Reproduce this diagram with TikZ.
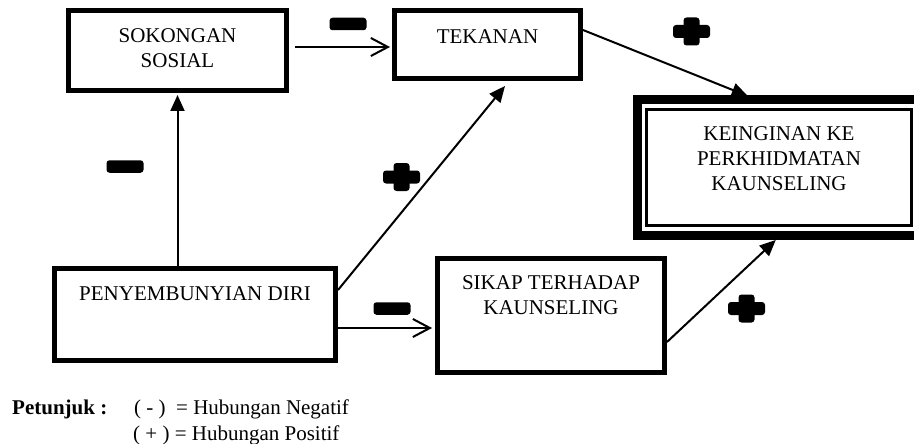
\documentclass[tikz,border=0pt]{standalone}
\usepackage{fontspec}
\setmainfont{Liberation Serif}
\usetikzlibrary{arrows.meta,calc}
\begin{document}
\begin{tikzpicture}[x=1pt,y=-1pt,
  box/.style={draw, line width=5pt, outer sep=2.5pt, inner sep=0pt},
  lbl/.style={anchor=base, inner sep=0pt, align=center, font=\fontsize{21}{25}\selectfont},
  legend/.style={anchor=base west, inner sep=0pt, font=\fontsize{21}{25}\selectfont},
  fillarr/.style={line width=2pt, -{Triangle[length=16pt,width=14pt]}},
  openarr/.style={line width=2pt, -{Straight Barb[length=17pt,width=18pt]}},
  negsign/.style={fill=black, rounded corners=3pt, minimum width=37pt, minimum height=12.5pt, inner sep=0pt},
  possign/.pic={
    \fill[black, rounded corners=3pt] (-18.5,-6.5) rectangle (18.5,6.5);
    \fill[black, rounded corners=3pt] (-8,-14) rectangle (8,14);
  }]
\useasboundingbox (0,0) rectangle (914,444);
% boxes
\node[box, minimum width=218pt, minimum height=80pt] (sok) at (177.5,50.5) {};
\node[box, minimum width=186pt, minimum height=68pt] (tek) at (487.5,44.5) {};
\node[box, minimum width=281pt, minimum height=92pt] (pen) at (195,314.5) {};
\node[box, minimum width=227pt, minimum height=114pt] (sik) at (551,315.5) {};
\node[draw, line width=9pt, outer sep=4.5pt, inner sep=0pt, minimum width=292.5pt, minimum height=136pt] (keiout) at (783.75,167.5) {};
\node[draw, line width=2.5pt, inner sep=0pt, minimum width=265pt, minimum height=116pt] (kei) at (779,167.5) {};
% texts (base anchor = last line's baseline)
\node[lbl] (sokT) at (177.5,68) {SOKONGAN\\SOSIAL};
\node[lbl] (tekT) at (487.5,44) {TEKANAN};
\node[lbl] (keiT) at (779,190) {KEINGINAN KE\\PERKHIDMATAN\\KAUNSELING};
\node[lbl] (penT) at (195,300) {PENYEMBUNYIAN DIRI};
\node[lbl] (sikT) at (551,314) {SIKAP TERHADAP\\KAUNSELING};
% connectors
\draw[openarr] ($(sok.east)+(6,-3.5)$) -- ($(tek.west)+(-2,2.5)$);
\draw[fillarr] ($(sok.south |- pen.north)+(0,5)$) -- ($(sok.south)+(0,2)$);
\draw[fillarr] ($(pen.east)+(0,-24.5)$) -- ($(tek.south)+(17.5,5)$);
\draw[fillarr] ($(tek.east)+(0,-14.5)$) -- ($(keiout.north)+(-36,1)$);
\draw[openarr] ($(pen.east)+(0,13.5)$) -- ($(sik.west)+(-3,12.5)$);
\draw[fillarr] ($(sik.east)+(0,26.5)$) -- ($(keiout.south)+(-8,0)$);
% signs
\node[negsign] (n1) at (348,24) {};
\node[negsign] (n2) at (125,166.5) {};
\node[negsign] (n3) at (392,308.5) {};
\pic (p1) at (401.5,177) {possign};
\pic (p2) at (691.5,31.5) {possign};
\pic (p3) at (746.5,308.5) {possign};
% legend
\node[legend, font=\fontsize{21}{25}\selectfont\bfseries] (pet) at (12,414) {Petunjuk :};
\node[legend] (neg) at (134,414) {( - )\ \ = Hubungan Negatif};
\node[legend] (pos) at (133,440) {( + ) = Hubungan Positif};
\end{tikzpicture}
\end{document}
